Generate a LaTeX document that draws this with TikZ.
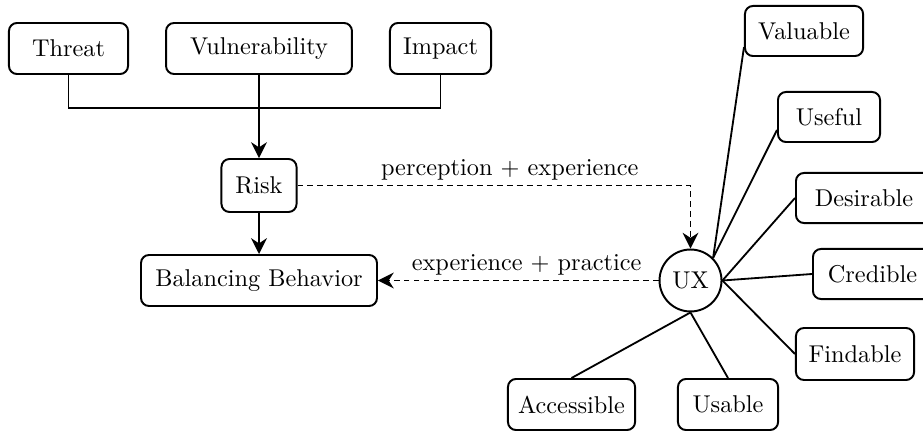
\documentclass[tikz,border=0pt]{standalone}
\usetikzlibrary{arrows.meta}
\begin{document}
\begin{tikzpicture}[x=0.4115pt,y=-0.4115pt,
  box/.style={draw, line width=0.8pt, rounded corners=3.3pt, inner sep=0pt, minimum height=21pt, align=center},
  uxnode/.style={draw, circle, line width=0.8pt, inner sep=0pt, minimum size=25.5pt},
  conn/.style={line width=0.75pt},
  arr/.style={-{Stealth[length=6.5pt,width=6.5pt]}},
  dsh/.style={dash pattern=on 2.4pt off 1.7pt},
  lbl/.style={above, inner sep=1.6pt}]
\useasboundingbox (0,0) rectangle (923,431);
% left part
\node[box, minimum width=49pt] (threat) at (68.5,48.5) {Threat};
\node[box, minimum width=76.5pt] (vuln) at (259,48.5) {Vulnerability};
\node[box, minimum width=41.6pt] (impact) at (440.5,48.5) {Impact};
\node[box, minimum width=30.9pt, minimum height=21.8pt] (risk) at (259,185.5) {Risk};
\node[box, minimum width=97.1pt] (bb) at (259,280.5) {Balancing Behavior};
\coordinate (j) at (259,108);
% right part
\node[uxnode] (ux) at (690.5,280.5) {UX};
\node[box, minimum width=48.6pt, minimum height=20.6pt] (valuable) at (804,31) {Valuable};
\node[box, minimum width=42pt, minimum height=20.6pt] (useful) at (829,117) {Useful};
\node[box, minimum width=56pt, minimum height=20.6pt] (desirable) at (864,198) {Desirable};
\node[box, minimum width=49pt, minimum height=20.6pt] (credible) at (872.5,274) {Credible};
\node[box, minimum width=48.6pt, minimum height=21.4pt] (findable) at (855,354) {Findable};
\node[box, minimum width=52.3pt] (accessible) at (571.5,404.5) {Accessible};
\node[box, minimum width=41.2pt] (usable) at (728,404.5) {Usable};
% connectors left
\draw[conn] (threat.south) |- (j) -| (impact.south);
\draw[conn, line width=0.9pt, arr] (vuln.south) -- (risk.north);
\draw[conn, line width=0.9pt, arr] (risk.south) -- (bb.north);
\draw[conn, dsh, arr] (risk.east) -| node[lbl, pos=0.27] {perception $+$ experience} (ux.north);
\draw[conn, dsh, arr] (ux.west) -- node[lbl, pos=0.47] {experience $+$ practice} (bb.east);
% connectors right
\draw[conn] (ux.north east) -- (valuable.195);
\draw[conn] (ux.north east) -- (useful.194);
\draw[conn] (ux.east) -- (desirable.west);
\draw[conn] (ux.east) -- (credible.west);
\draw[conn] (ux.east) -- (findable.west);
\draw[conn] (ux.south) -- (accessible.north);
\draw[conn] (ux.south) -- (usable.north);
\end{tikzpicture}
\end{document}
